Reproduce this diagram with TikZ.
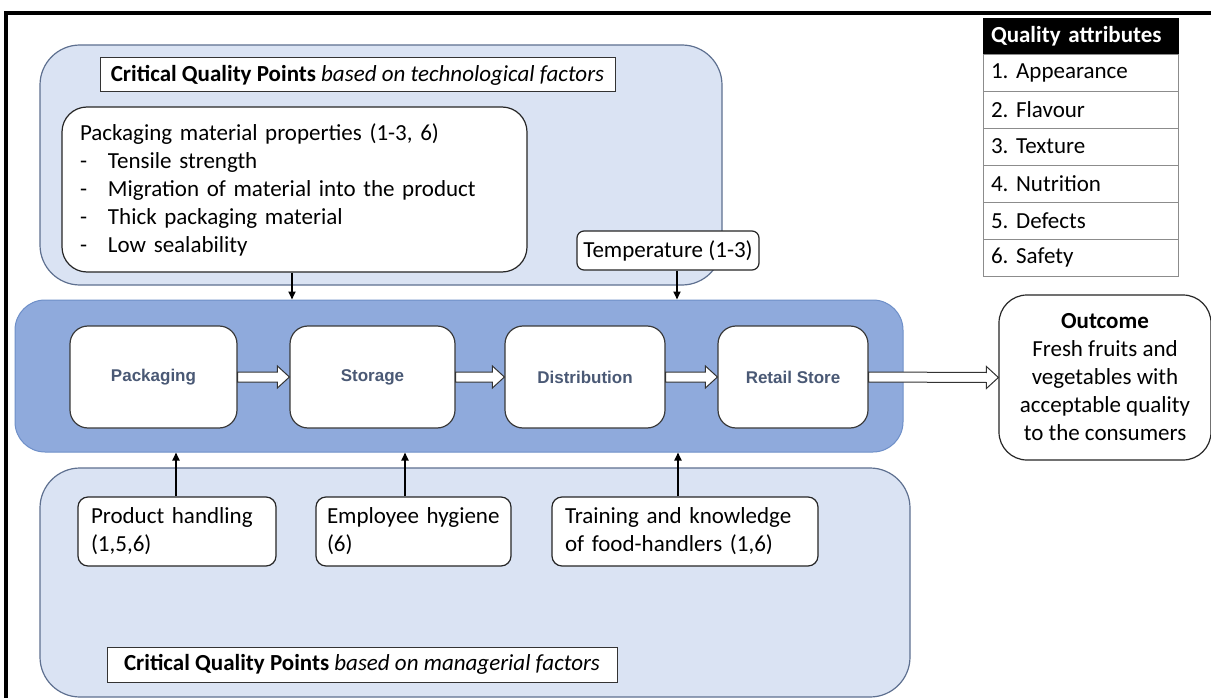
\documentclass[tikz,border=0pt]{standalone}
\usepackage{fontspec}
\setmainfont{Carlito}
\newfontfamily\stagefont{Liberation Sans}
\usetikzlibrary{arrows.meta,calc}
\definecolor{lightfill}{HTML}{DAE3F3}
\definecolor{regionborder}{HTML}{5E7090}
\definecolor{bandfill}{HTML}{8FAADC}
\definecolor{bandborder}{HTML}{6E8FC8}
\definecolor{stagetext}{HTML}{4A5975}
\definecolor{stageborder}{HTML}{3A3A3A}
\newcommand{\hollowarrow}[2]{%
  \draw[hollow] ($(#1.east)+(0,-5)$) -- ($(#2.west)+(-12,-5)$) -- ($(#2.west)+(-12,-11)$) -- (#2.west)
    -- ($(#2.west)+(-12,11)$) -- ($(#2.west)+(-12,5)$) -- ($(#1.east)+(0,5)$) -- cycle;}
\frenchspacing
\hyphenpenalty=10000
\begin{document}
\begin{tikzpicture}[x=1pt,y=-1pt,
  txt/.style={font=\fontsize{23}{28}\selectfont},
  region/.style={draw=regionborder, fill=lightfill, line width=1.2pt, rounded corners=40pt, inner sep=0pt},
  band/.style={draw=bandborder, fill=bandfill, line width=1pt, rounded corners=30pt, inner sep=0pt},
  stagebox/.style={draw=stageborder, fill=white, line width=1.2pt, rounded corners=18pt, minimum height=102pt, inner sep=0pt,
    font=\stagefont\bfseries\fontsize{17}{20}\selectfont, text=stagetext},
  factor/.style={draw=black!85, fill=white, line width=1.2pt, align=left, txt, inner xsep=13pt, inner ysep=0pt},
  titlebox/.style={draw=black!80, fill=white, line width=1pt, txt, inner sep=0pt},
  legrow/.style={draw=black!45, fill=white, line width=0.8pt, minimum width=195pt, minimum height=37pt, inner xsep=8pt,
    text width=179pt, align=left, txt},
  arr/.style={line width=1.8pt, -{Triangle[length=8pt,width=7pt]}},
  hollow/.style={draw=black!80, fill=white, line width=1pt},
]
\useasboundingbox (0,0) rectangle (1211,698);
\fill[white] (0,0) rectangle (1211,698);

% outer frame
\draw[line width=4pt] (6,700) -- (6,13) -- (1213,13);

% regions
\node[region, minimum width=682pt, minimum height=240pt] (tech) at (381,165) {};
\node[region, minimum width=870pt, minimum height=229pt] (mgmt) at (475,582.5) {};
\node[band, minimum width=888pt, minimum height=152pt] (band) at (459,376) {};

% title boxes
\node[titlebox, minimum width=515pt, minimum height=34pt] (ttech) at (357.5,75)
  {\textbf{Critical Quality Points} \textit{based on technological factors}};
\node[titlebox, minimum width=510pt, minimum height=35pt] (tmgmt) at (362,664.5)
  {\textbf{Critical Quality Points} \textit{based on managerial factors}};

% technological factors
\node[factor, rounded corners=25pt, minimum width=465pt, minimum height=165pt, inner xsep=18pt, text width=429pt] (pm) at (294.5,189.5)
  {Packaging material properties (1-3, 6)\\
   \makebox[28pt][l]{-}Tensile strength\\
   \makebox[28pt][l]{-}Migration of material into the product\\
   \makebox[28pt][l]{-}Thick packaging material\\
   \makebox[28pt][l]{-}Low sealability};
\node[factor, rounded corners=7pt, minimum width=182pt, minimum height=39pt, inner xsep=0pt] (temp) at (668,250.5)
  {Temperature (1-3)};

% stages
\node[stagebox, minimum width=167pt] (pack) at (153.5,377) {Packaging};
\node[stagebox, minimum width=165pt] (stor) at (372.5,377) {Storage};
\node[stagebox, minimum width=160pt] (dist) at (585,377) {Distribution};
\node[stagebox, minimum width=150pt] (ret) at (793,377) {Retail Store};

% outcome
\node[draw=black!85, fill=white, line width=1.2pt, rounded corners=28pt, minimum width=212pt, minimum height=165pt,
  align=center, txt, inner sep=0pt] (out) at (1105,377.5)
  {\textbf{Outcome}\\Fresh fruits and\\vegetables with\\acceptable quality\\to the consumers};

% managerial factors
\node[factor, rounded corners=10pt, minimum width=198pt, minimum height=69pt, text width=172pt] (ph) at (177,531.5)
  {Product handling\\(1,5,6)};
\node[factor, rounded corners=10pt, minimum width=195pt, minimum height=69pt, inner xsep=11pt, text width=173pt] (eh) at (413.5,531.5)
  {\mbox{Employee hygiene}\\(6)};
\node[factor, rounded corners=10pt, minimum width=266pt, minimum height=69pt, text width=240pt] (tk) at (685,531.5)
  {Training and knowledge\\of food-handlers (1,6)};

% legend
\node[fill=black, draw=black, minimum width=195pt, minimum height=36pt, inner xsep=8pt, text width=179pt, align=left,
  text=white, txt] (lh) at (1080.5,36) {\textbf{Quality attributes}};
\node[legrow] (l1) at (1080.5,72.5) {1. Appearance};
\node[legrow] (l2) at (1080.5,109.5) {2. Flavour};
\node[legrow] (l3) at (1080.5,146.5) {3. Texture};
\node[legrow] (l4) at (1080.5,183.5) {4. Nutrition};
\node[legrow] (l5) at (1080.5,220.5) {5. Defects};
\node[legrow] (l6) at (1080.5,257.5) {6. Safety};

% flow arrows
\hollowarrow{pack}{stor}
\hollowarrow{stor}{dist}
\hollowarrow{dist}{ret}
\hollowarrow{ret}{out}

% influence arrows
\draw[arr] ([xshift=-2.5pt]pm.south) -- ([xshift=-2.5pt]pm.south |- band.north);
\draw[arr] ([xshift=9pt]temp.south) -- ([xshift=9pt]temp.south |- band.north);
\draw[arr] ([xshift=-1pt]ph.north) -- ([xshift=-1pt]ph.north |- band.south);
\draw[arr] ([xshift=-8.5pt]eh.north) -- ([xshift=-8.5pt]eh.north |- band.south);
\draw[arr] ([xshift=-7pt]tk.north) -- ([xshift=-7pt]tk.north |- band.south);
\end{tikzpicture}
\end{document}
